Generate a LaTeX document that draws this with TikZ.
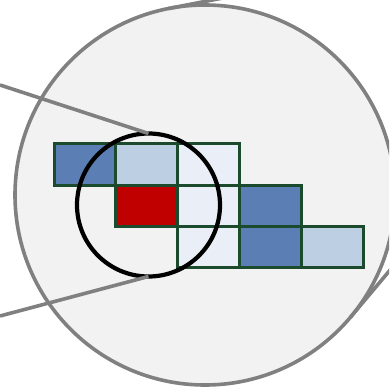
\documentclass[tikz,border=0pt]{standalone}
\usetikzlibrary{positioning,calc}
\definecolor{lensgray}{RGB}{128,128,128}
\definecolor{zoomfill}{RGB}{242,242,242}
\definecolor{cellgreen}{RGB}{28,74,44}
\definecolor{cellblue}{RGB}{91,127,180}
\definecolor{celllight}{RGB}{189,207,226}
\definecolor{cellpale}{RGB}{234,239,247}
\definecolor{cellred}{RGB}{192,0,0}

\begin{document}
\begin{tikzpicture}[x = 1pt, y = -1pt,
		callout/.style = {draw=lensgray, line width=3.6pt},
		cell/.style = {draw=cellgreen, line width=3pt, minimum width=61.8pt, minimum height=41pt, inner sep=0pt, outer sep=0pt}]
		\useasboundingbox (0,0) rectangle (389,390);
		\clip (0,0) rectangle (389,390);
		% magnified view
		\node[circle, draw=lensgray, fill=zoomfill, line width=3.6pt, minimum size=380pt, inner sep=0pt, outer sep=0pt] (zoom) at (205,195) {};
		\draw[callout] (zoom.101) -- ++(11:80pt);
		\draw[callout] (zoom.-40) -- ++(50:80pt);
		% cells
		\foreach \col/\row/\shade in {0/0/cellblue, 1/0/celllight, 2/0/cellpale, 1/1/cellred, 2/1/cellpale, 3/1/cellblue, 2/2/cellpale, 3/2/cellblue, 4/2/celllight}
			\node[cell, fill=\shade] (c\col\row) at ({84.9+61.8*\col},{164.5+41*\row}) {};
		% lens and its callout lines
		\node[circle, draw=black, line width=4.2pt, minimum size=143pt, inner sep=0pt, outer sep=0pt] (lens) at (148.5,205) {};
		\coordinate (farup) at (0,85);
		\coordinate (fardown) at (0,316);
		\draw[callout] (farup) -- (lens.north);
		\draw[callout] (fardown) -- (lens.south);
	\end{tikzpicture}
\end{document}
